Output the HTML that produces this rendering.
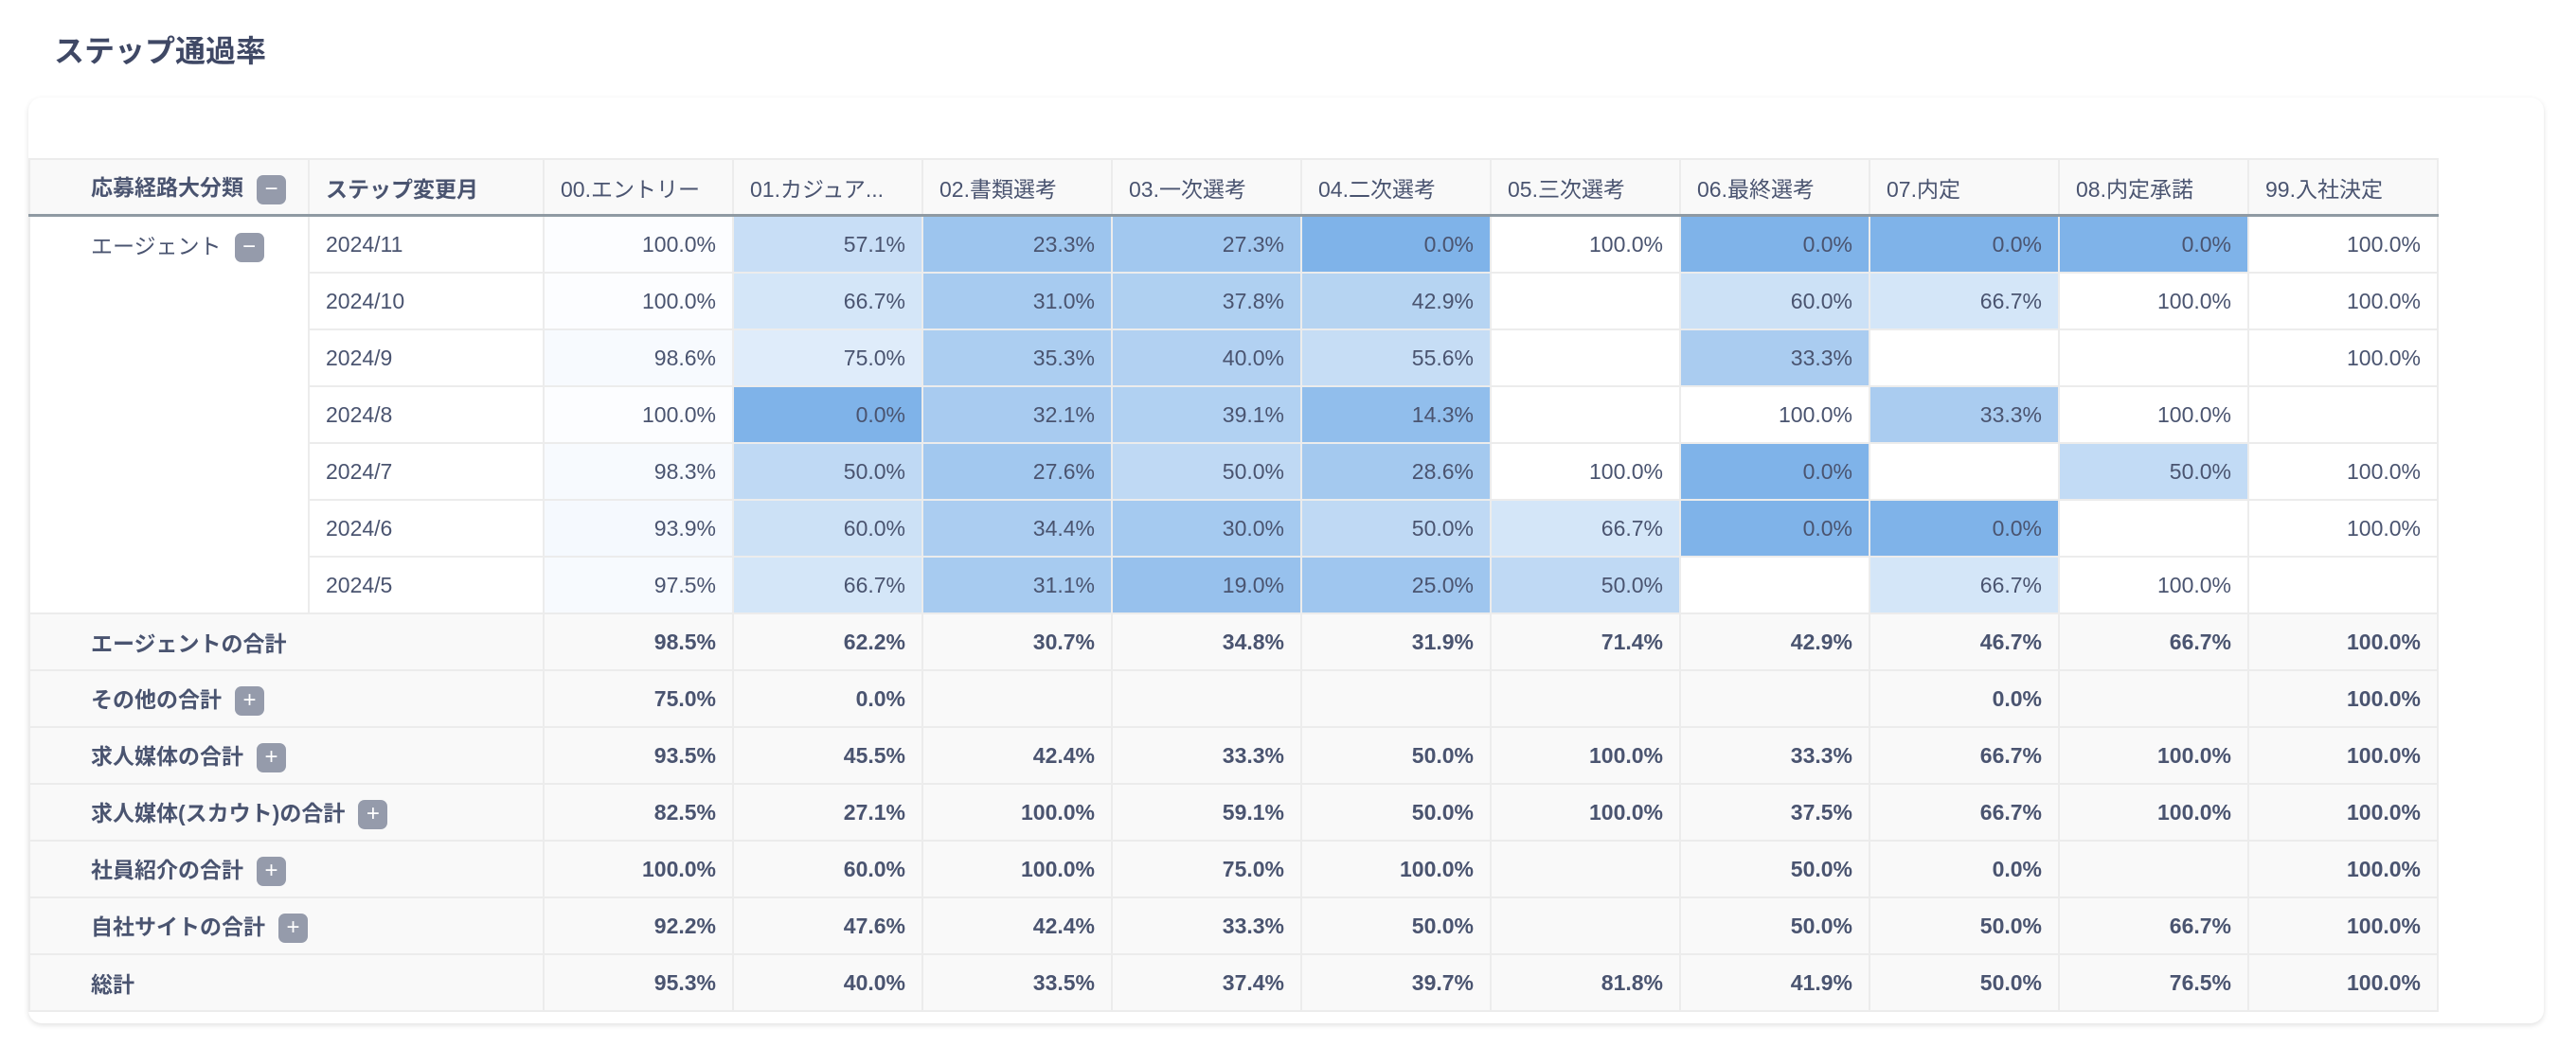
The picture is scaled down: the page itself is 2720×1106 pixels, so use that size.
<!DOCTYPE html>
<html><head><meta charset="utf-8"><style>
html,body{margin:0;padding:0;background:#fff;width:2720px;height:1106px;overflow:hidden;font-family:"Liberation Sans","Noto Sans CJK JP",sans-serif;color:#4a5470}
.title{position:absolute;left:57px;top:29px;font-size:32px;font-weight:bold;color:#3f4865;font-family:"Noto Sans CJK JP",sans-serif}
.card{position:absolute;left:30px;top:103px;width:2656px;height:978px;background:#fff;border-radius:14px;box-shadow:0 2px 6px rgba(0,0,0,0.12)}
table{position:absolute;left:30px;top:167px;border-collapse:collapse;table-layout:fixed;font-size:23px}
td,th{height:58px;border:2px solid #ececec;padding:0 17px;white-space:nowrap;overflow:hidden}
th{height:57px;background:#f9f9f9;text-align:left;font-weight:normal;font-family:"Liberation Sans","Noto Sans CJK JP",sans-serif;border-bottom:3px solid #8f9aa3}
th.b{font-weight:bold}
td{text-align:right}
td.l{text-align:left}
td.g{text-align:left;vertical-align:top;padding-top:12px;padding-left:64px;border-bottom:2px solid #ececec}
tr.t td{background:#f9f9f9;font-weight:bold}
tr.t td.l{padding-left:64px}
.btn{display:inline-block;width:31px;height:31px;border-radius:7px;background:#959bab;color:#fff;text-align:center;line-height:30px;font-size:24px;vertical-align:middle;margin-left:14px;font-weight:normal}
th:first-child{padding-left:64px}
</style></head><body>
<div class="title">ステップ通過率</div>
<div class="card"></div>
<table>
<colgroup><col style="width:295px"><col style="width:248px"><col style="width:200px"><col style="width:200px"><col style="width:200px"><col style="width:200px"><col style="width:200px"><col style="width:200px"><col style="width:200px"><col style="width:200px"><col style="width:200px"><col style="width:200px"></colgroup>
<tr><th class="b">応募経路大分類<span class="btn">−</span></th><th class="b">ステップ変更月</th><th>00.エントリー</th><th>01.カジュア...</th><th>02.書類選考</th><th>03.一次選考</th><th>04.二次選考</th><th>05.三次選考</th><th>06.最終選考</th><th>07.内定</th><th>08.内定承諾</th><th>99.入社決定</th></tr>
<tr><td class="g" rowspan="7">エージェント<span class="btn">−</span></td><td class="l">2024/11</td><td style="background:#fcfdff">100.0%</td><td style="background:rgb(200,222,246)">57.1%</td><td style="background:rgb(157,197,238)">23.3%</td><td style="background:rgb(162,200,239)">27.3%</td><td style="background:rgb(127,179,233)">0.0%</td><td>100.0%</td><td style="background:rgb(127,179,233)">0.0%</td><td style="background:rgb(127,179,233)">0.0%</td><td style="background:rgb(127,179,233)">0.0%</td><td>100.0%</td></tr>
<tr><td class="l">2024/10</td><td style="background:#fcfdff">100.0%</td><td style="background:rgb(212,230,248)">66.7%</td><td style="background:rgb(167,203,240)">31.0%</td><td style="background:rgb(175,208,241)">37.8%</td><td style="background:rgb(182,212,242)">42.9%</td><td></td><td style="background:rgb(204,225,246)">60.0%</td><td style="background:rgb(212,230,248)">66.7%</td><td>100.0%</td><td>100.0%</td></tr>
<tr><td class="l">2024/9</td><td style="background:rgb(247,250,254)">98.6%</td><td style="background:rgb(223,236,250)">75.0%</td><td style="background:rgb(172,206,241)">35.3%</td><td style="background:rgb(178,209,242)">40.0%</td><td style="background:rgb(198,221,245)">55.6%</td><td></td><td style="background:rgb(170,204,240)">33.3%</td><td></td><td></td><td>100.0%</td></tr>
<tr><td class="l">2024/8</td><td style="background:#fcfdff">100.0%</td><td style="background:rgb(127,179,233)">0.0%</td><td style="background:rgb(168,203,240)">32.1%</td><td style="background:rgb(177,209,242)">39.1%</td><td style="background:rgb(145,190,236)">14.3%</td><td></td><td>100.0%</td><td style="background:rgb(170,204,240)">33.3%</td><td>100.0%</td><td></td></tr>
<tr><td class="l">2024/7</td><td style="background:rgb(247,250,254)">98.3%</td><td style="background:rgb(191,217,244)">50.0%</td><td style="background:rgb(162,200,239)">27.6%</td><td style="background:rgb(191,217,244)">50.0%</td><td style="background:rgb(164,201,239)">28.6%</td><td>100.0%</td><td style="background:rgb(127,179,233)">0.0%</td><td></td><td style="background:rgb(194,219,245)">50.0%</td><td>100.0%</td></tr>
<tr><td class="l">2024/6</td><td style="background:rgb(245,249,254)">93.9%</td><td style="background:rgb(204,225,246)">60.0%</td><td style="background:rgb(171,205,241)">34.4%</td><td style="background:rgb(165,202,240)">30.0%</td><td style="background:rgb(191,217,244)">50.0%</td><td style="background:rgb(212,230,248)">66.7%</td><td style="background:rgb(127,179,233)">0.0%</td><td style="background:rgb(127,179,233)">0.0%</td><td></td><td>100.0%</td></tr>
<tr><td class="l">2024/5</td><td style="background:rgb(247,250,254)">97.5%</td><td style="background:rgb(212,230,248)">66.7%</td><td style="background:rgb(167,203,240)">31.1%</td><td style="background:rgb(151,193,237)">19.0%</td><td style="background:rgb(159,198,239)">25.0%</td><td style="background:rgb(191,217,244)">50.0%</td><td></td><td style="background:rgb(212,230,248)">66.7%</td><td>100.0%</td><td></td></tr>
<tr class="t"><td class="l" colspan="2">エージェントの合計</td><td>98.5%</td><td>62.2%</td><td>30.7%</td><td>34.8%</td><td>31.9%</td><td>71.4%</td><td>42.9%</td><td>46.7%</td><td>66.7%</td><td>100.0%</td></tr>
<tr class="t"><td class="l" colspan="2">その他の合計<span class="btn">+</span></td><td>75.0%</td><td>0.0%</td><td></td><td></td><td></td><td></td><td></td><td>0.0%</td><td></td><td>100.0%</td></tr>
<tr class="t"><td class="l" colspan="2">求人媒体の合計<span class="btn">+</span></td><td>93.5%</td><td>45.5%</td><td>42.4%</td><td>33.3%</td><td>50.0%</td><td>100.0%</td><td>33.3%</td><td>66.7%</td><td>100.0%</td><td>100.0%</td></tr>
<tr class="t"><td class="l" colspan="2">求人媒体(スカウト)の合計<span class="btn">+</span></td><td>82.5%</td><td>27.1%</td><td>100.0%</td><td>59.1%</td><td>50.0%</td><td>100.0%</td><td>37.5%</td><td>66.7%</td><td>100.0%</td><td>100.0%</td></tr>
<tr class="t"><td class="l" colspan="2">社員紹介の合計<span class="btn">+</span></td><td>100.0%</td><td>60.0%</td><td>100.0%</td><td>75.0%</td><td>100.0%</td><td></td><td>50.0%</td><td>0.0%</td><td></td><td>100.0%</td></tr>
<tr class="t"><td class="l" colspan="2">自社サイトの合計<span class="btn">+</span></td><td>92.2%</td><td>47.6%</td><td>42.4%</td><td>33.3%</td><td>50.0%</td><td></td><td>50.0%</td><td>50.0%</td><td>66.7%</td><td>100.0%</td></tr>
<tr class="t"><td class="l" colspan="2">総計</td><td>95.3%</td><td>40.0%</td><td>33.5%</td><td>37.4%</td><td>39.7%</td><td>81.8%</td><td>41.9%</td><td>50.0%</td><td>76.5%</td><td>100.0%</td></tr>
</table>
</body></html>
